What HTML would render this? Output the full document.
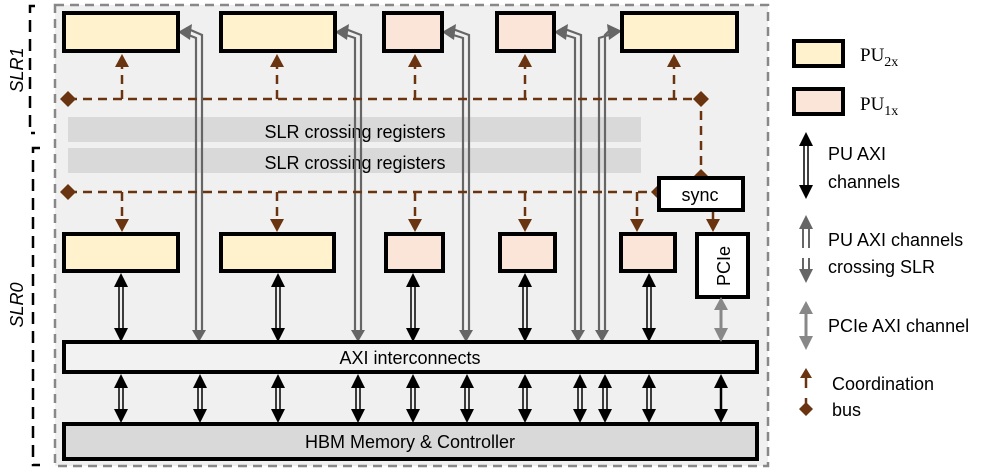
<!DOCTYPE html>
<html><head><meta charset="utf-8"><style>body{margin:0;background:#fff}svg{display:block}</style></head><body>
<svg width="995" height="472" viewBox="0 0 995 472" xmlns="http://www.w3.org/2000/svg" font-family="Liberation Sans, sans-serif">
<rect x="55" y="5" width="713" height="461" fill="#f0f0f0" stroke="#888" stroke-width="2.5" stroke-dasharray="9,6"/>
<path d="M35,6 H30 V133 H35" fill="none" stroke="#000" stroke-width="2.5" stroke-dasharray="12,7"/>
<path d="M40,148 H33 V465 H40" fill="none" stroke="#000" stroke-width="2.5" stroke-dasharray="12,7"/>
<text transform="translate(23,70) rotate(-90)" text-anchor="middle" font-size="18" font-style="italic">SLR1</text>
<text transform="translate(23,305) rotate(-90)" text-anchor="middle" font-size="18" font-style="italic">SLR0</text>
<rect x="68" y="117" width="573" height="25" fill="#d9d9d9"/>
<rect x="68" y="148" width="573" height="25" fill="#d9d9d9"/>
<text x="355" y="138" text-anchor="middle" font-size="18">SLR crossing registers</text>
<text x="355" y="169" text-anchor="middle" font-size="18">SLR crossing registers</text>
<g stroke="#666" stroke-width="2.2" fill="none">
<path d="M196,333 V38 L186,34 M202,333 V35 L186,28"/>
<path d="M355,333 V38 L343,34 M361,333 V35 L343,28"/>
<path d="M463,333 V38 L450,34 M469,333 V35 L450,28"/>
<path d="M575,333 V38 L562,34 M581,333 V35 L562,28"/>
<path d="M599,333 V38 L612,34 M605,333 V35 L612,28"/>
</g>
<g fill="#666">
<path d="M178,32 L192,24 L190,40 z"/><path d="M335,32 L349,24 L347,40 z"/>
<path d="M442,32 L456,24 L454,40 z"/><path d="M554,32 L568,24 L566,40 z"/>
<path d="M622,31 L607,24 L609,40 z"/>
<path d="M192,330 h14 l-7,12 z"/><path d="M351,330 h14 l-7,12 z"/><path d="M459,330 h14 l-7,12 z"/><path d="M571,330 h14 l-7,12 z"/><path d="M595,330 h14 l-7,12 z"/>
</g>
<g stroke="#6b3410" stroke-width="2.5" fill="none" stroke-dasharray="9,6">
<path d="M68,99 H701 V177"/>
<path d="M122,99 V62"/><path d="M277,99 V62"/><path d="M415,99 V62"/><path d="M525,99 V62"/><path d="M674,99 V62"/>
<path d="M68,192 H659"/>
<path d="M122,192 V221"/><path d="M277,192 V221"/><path d="M415,192 V221"/><path d="M525,192 V221"/><path d="M637,192 V221"/>
<path d="M713,210 V221" stroke-dasharray="none"/>
</g>
<g fill="#6b3410">
<path d="M68,91 l8,8 l-8,8 l-8,-8z"/><path d="M701,91 l8,8 l-8,8 l-8,-8z"/><path d="M701,169 l8,8 l-8,8 l-8,-8z"/>
<path d="M68,184 l8,8 l-8,8 l-8,-8z"/><path d="M659,184 l8,8 l-8,8 l-8,-8z"/>
<path d="M115,67 l7,-13 l7,13z"/><path d="M270,67 l7,-13 l7,13z"/><path d="M408,67 l7,-13 l7,13z"/><path d="M518,67 l7,-13 l7,13z"/><path d="M667,67 l7,-13 l7,13z"/>
<path d="M115,219 l7,13 l7,-13z"/><path d="M270,219 l7,13 l7,-13z"/><path d="M408,219 l7,13 l7,-13z"/><path d="M518,219 l7,13 l7,-13z"/><path d="M630,219 l7,13 l7,-13z"/><path d="M706,219 l7,13 l7,-13z"/>
</g>
<g stroke="#000" stroke-width="4">
<rect x="64" y="13" width="114" height="38" fill="#fff2cc"/>
<rect x="221" y="13" width="114" height="38" fill="#fff2cc"/>
<rect x="384" y="13" width="58" height="38" fill="#fae5d8"/>
<rect x="497" y="13" width="57" height="38" fill="#fae5d8"/>
<rect x="622" y="13" width="115" height="38" fill="#fff2cc"/>
<rect x="64" y="234" width="114" height="37" fill="#fff2cc"/>
<rect x="221" y="234" width="113" height="37" fill="#fff2cc"/>
<rect x="386" y="234" width="57" height="37" fill="#fae5d8"/>
<rect x="500" y="234" width="55" height="37" fill="#fae5d8"/>
<rect x="621" y="234" width="54" height="37" fill="#fae5d8"/>
<rect x="697" y="234" width="51" height="63" fill="#fff"/>
<rect x="659" y="178" width="84" height="32" fill="#fff"/>
<rect x="64" y="342" width="693" height="30" fill="#f2f2f2"/>
<rect x="64" y="424" width="693" height="35" fill="#d9d9d9"/>
</g>
<text x="700" y="201" text-anchor="middle" font-size="18">sync</text>
<text transform="translate(730,266) rotate(-90)" text-anchor="middle" font-size="18">PCIe</text>
<text x="410" y="364" text-anchor="middle" font-size="18">AXI interconnects</text>
<text x="410" y="448" text-anchor="middle" font-size="18">HBM Memory &amp; Controller</text>
<g stroke="#000" stroke-width="1.5">
<path d="M119,285 V328 M123,285 V328"/><path d="M276,285 V328 M280,285 V328"/><path d="M411,285 V328 M415,285 V328"/><path d="M523,285 V328 M527,285 V328"/><path d="M647,285 V328 M651,285 V328"/>
<path d="M119,387 V410 M123,387 V410"/><path d="M198,387 V410 M202,387 V410"/><path d="M276,387 V410 M280,387 V410"/><path d="M356,387 V410 M360,387 V410"/><path d="M411,387 V410 M415,387 V410"/><path d="M465,387 V410 M469,387 V410"/><path d="M523,387 V410 M527,387 V410"/><path d="M578,387 V410 M582,387 V410"/><path d="M603,387 V410 M607,387 V410"/><path d="M647,387 V410 M651,387 V410"/>
<path d="M721,387 V410" stroke-width="2.5"/>
</g>
<g fill="#000">
<path d="M114,287 l7,-14 l7,14z M114,328 l7,14 l7,-14z"/>
<path d="M271,287 l7,-14 l7,14z M271,328 l7,14 l7,-14z"/>
<path d="M406,287 l7,-14 l7,14z M406,328 l7,14 l7,-14z"/>
<path d="M518,287 l7,-14 l7,14z M518,328 l7,14 l7,-14z"/>
<path d="M642,287 l7,-14 l7,14z M642,328 l7,14 l7,-14z"/>
<g id="lw"><path d="M114,388 l7,-14 l7,14z M114,409 l7,14 l7,-14z"/></g>
<use href="#lw" x="79"/><use href="#lw" x="157"/><use href="#lw" x="237"/><use href="#lw" x="292"/><use href="#lw" x="346"/><use href="#lw" x="404"/><use href="#lw" x="459"/><use href="#lw" x="484"/><use href="#lw" x="528"/><use href="#lw" x="600"/>
</g>
<path d="M721,308 V330" stroke="#888" stroke-width="3"/>
<path d="M714,310 l7,-13 l7,13z M714,328 l7,14 l7,-14z" fill="#888"/>
<rect x="794" y="41" width="49" height="25" fill="#fff2cc" stroke="#000" stroke-width="4"/>
<rect x="794" y="89" width="49" height="25" fill="#fae5d8" stroke="#000" stroke-width="4"/>
<text x="860" y="61" font-size="19" font-family="Liberation Serif, serif">PU<tspan font-size="14" dy="5">2x</tspan></text>
<text x="860" y="110" font-size="19" font-family="Liberation Serif, serif">PU<tspan font-size="14" dy="5">1x</tspan></text>
<path d="M804,144 V186 M808,144 V186" stroke="#000" stroke-width="1.5"/>
<path d="M799,146 l7,-14 l7,14z M799,185 l7,14 l7,-14z" fill="#000"/>
<text x="828" y="160" font-size="18">PU AXI</text>
<text x="828" y="188" font-size="18">channels</text>
<path d="M803,227 V248 M809,227 V248 M803,258 V270 M809,258 V270" stroke="#666" stroke-width="2"/>
<path d="M799,229 l7,-14 l7,14z M799,269 l7,14 l7,-14z" fill="#666"/>
<text x="828" y="246" font-size="18">PU AXI channels</text>
<text x="828" y="273" font-size="18">crossing SLR</text>
<path d="M806,312 V338" stroke="#888" stroke-width="3"/>
<path d="M799,314 l7,-13 l7,13z M799,336 l7,14 l7,-14z" fill="#888"/>
<text x="828" y="332" font-size="18">PCIe AXI channel</text>
<path d="M806,378 V388 M806,398 V404" stroke="#6b3410" stroke-width="2.5"/>
<path d="M800,378 l6,-10 l6,10z M806,402 l7,7 l-7,7 l-7,-7z" fill="#6b3410"/>
<text x="832" y="390" font-size="18">Coordination</text>
<text x="832" y="416" font-size="18">bus</text>
</svg>
</body></html>
